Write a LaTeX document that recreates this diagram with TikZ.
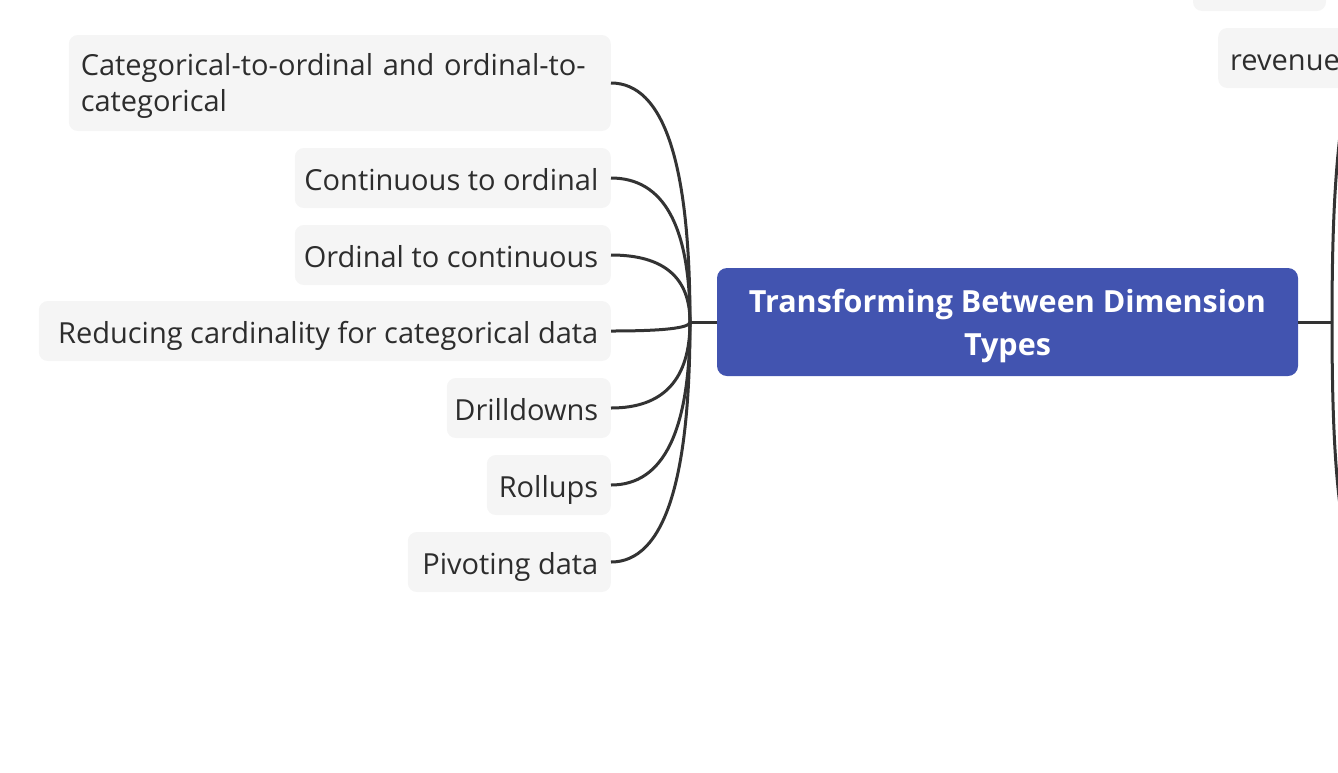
\documentclass[tikz,border=0pt]{standalone}
\usepackage{fontspec}
\setmainfont{Open Sans}
\usetikzlibrary{calc}
\definecolor{boxgray}{HTML}{F5F5F5}
\definecolor{txtdark}{HTML}{2D2D2D}
\definecolor{linedark}{HTML}{333333}
\definecolor{mainblue}{HTML}{4254B0}
\newcommand{\rtext}[2]{\makebox[#1][r]{#2}}
\tikzset{
  leaf/.style={fill=boxgray, draw=none, rounded corners=9pt, text=txtdark,
    font=\fontsize{29}{36}\selectfont, anchor=east, minimum height=60pt,
    inner xsep=12.5pt, inner ysep=0pt, text height=24pt, text depth=0pt},
  mainbox/.style={fill=mainblue, draw=none, rounded corners=10pt, text=white,
    font=\fontsize{30.5}{43}\selectfont\bfseries, minimum width=581pt, minimum height=108pt,
    align=center, inner sep=0pt},
  conn/.style={draw=linedark, line width=3pt}
}
\begin{document}
\begin{tikzpicture}[x=1pt,y=-1pt]
\useasboundingbox (0,0) rectangle (1338,772);
\begin{scope}
\clip (0,0) rectangle (1338,772);
% partial boxes at top right
\fill[boxgray, rounded corners=9pt] (1193,-60) rectangle (1326,11);
\node[leaf, anchor=west, inner xsep=12pt] (rev) at (1218,58) {\makebox[200pt][l]{revenue}};
% main
\node[mainbox] (main) at (1007.5,322) {\rule{0pt}{31pt}Transforming Between Dimension\\Types};
% leaves
\node[leaf, text height=, text depth=, text width=518pt, align=left, minimum height=96pt, inner xsep=12pt] (n1) at (611,83) {\rule{0pt}{28pt}Categorical-to-ordinal and ordinal-to-\\categorical};
\node[leaf] (n2) at (611,178) {\rtext{291pt}{Continuous to ordinal}};
\node[leaf] (n3) at (611,255) {\rtext{291pt}{Ordinal to continuous}};
\node[leaf] (n4) at (611,331) {\rtext{547pt}{Reducing cardinality for categorical data}};
\node[leaf] (n5) at (611,408) {\rtext{139pt}{Drilldowns}};
\node[leaf] (n6) at (611,485) {\rtext{99pt}{Rollups}};
\node[leaf] (n7) at (611,562) {\rtext{178pt}{Pivoting data}};
% connectors
\coordinate (j) at (690,322);
\draw[conn] (main.west) -- (j);
\foreach \n in {n1,n2,n3,n4,n5,n6,n7}{
  \draw[conn] (j) .. controls ($(j)!0.667!(j |- \n.east)$) and ($(\n.east)!0.667!(j |- \n.east)$) .. (\n.east);
}
% right side stubs
\coordinate (jr) at (1332,322);
\coordinate (rt) at (1342,120);
\coordinate (rb) at (1342,520);
\draw[conn] (main.east) -- (jr);
\draw[conn] (jr) .. controls (1332,230) and (1335,170) .. (rt);
\draw[conn] (jr) .. controls (1332,414) and (1335,474) .. (rb);
\end{scope}
\end{tikzpicture}
\end{document}
